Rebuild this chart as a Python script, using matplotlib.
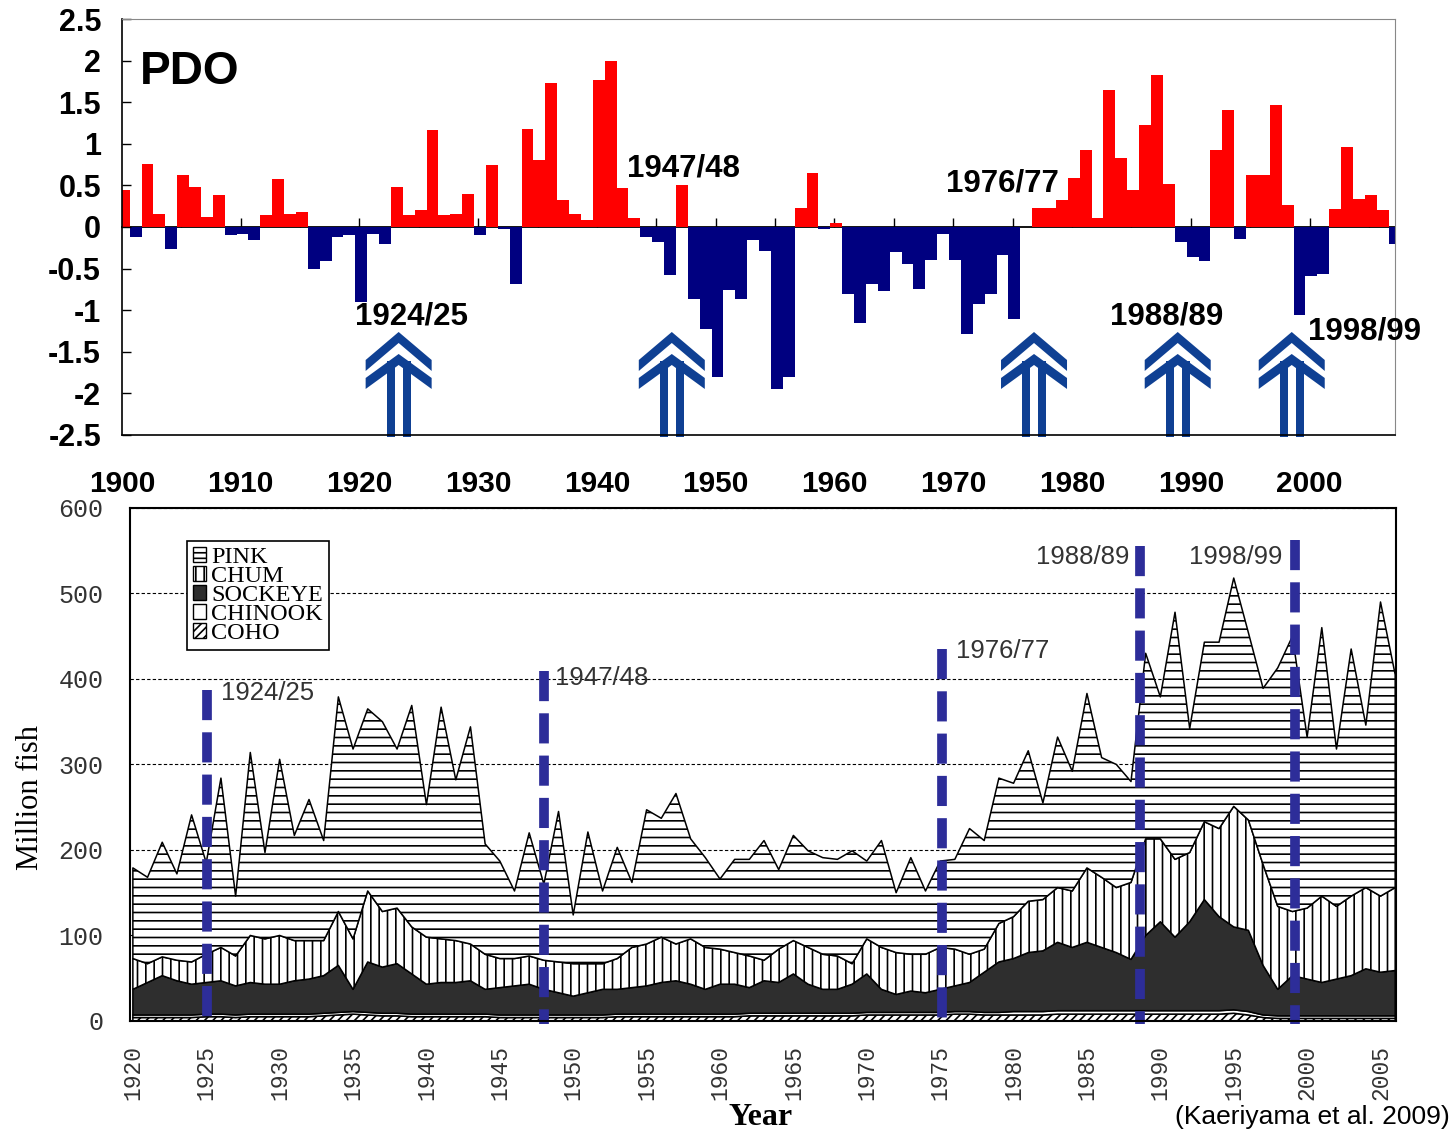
import matplotlib
matplotlib.use("Agg")
import matplotlib.pyplot as plt
import matplotlib.transforms as mtransforms
from matplotlib.patches import Patch, Polygon, Rectangle
import numpy as np

plt.rcParams["font.family"] = ["Liberation Sans", "DejaVu Sans"]
plt.rcParams["axes.unicode_minus"] = False
plt.rcParams["hatch.linewidth"] = 1.2

# PDO annual index 1900-2007
pdo_years = np.arange(1900, 2008)
pdo_values = [
    0.45, -0.12, 0.76, 0.16, -0.26, 0.63, 0.48, 0.12, 0.38, -0.10,
    -0.08, -0.16, 0.15, 0.58, 0.16, 0.18, -0.51, -0.41, -0.12, -0.10,
    -0.90, -0.09, -0.20, 0.48, 0.15, 0.20, 1.16, 0.15, 0.16, 0.40,
    -0.10, 0.74, -0.02, -0.69, 1.18, 0.80, 1.73, 0.33, 0.16, 0.08,
    1.77, 2.00, 0.47, 0.11, -0.12, -0.18, -0.58, 0.51, -0.87, -1.23,
    -1.80, -0.76, -0.87, -0.16, -0.29, -1.95, -1.80, 0.23, 0.65, -0.02,
    0.05, -0.81, -1.16, -0.69, -0.77, -0.30, -0.45, -0.74, -0.40, -0.09,
    -0.40, -1.29, -0.92, -0.80, -0.34, -1.10, 0.00, 0.23, 0.23, 0.33,
    0.59, 0.92, 0.11, 1.65, 0.83, 0.45, 1.23, 1.83, 0.52, -0.18,
    -0.36, -0.41, 0.92, 1.41, -0.14, 0.63, 0.63, 1.47, 0.26, -1.06,
    -0.59, -0.56, 0.22, 0.96, 0.34, 0.38, 0.20, -0.20,
]

# regime shifts
shift_labels = ["1924/25", "1947/48", "1976/77", "1988/89", "1998/99"]
pdo_label_x = [1924.4, 1947.3, 1974.1, 1988.0, 2004.6]
pdo_label_y = [-1.08, 0.70, 0.52, -1.08, -1.26]
arrow_x = [1923.3, 1946.3, 1976.8, 1988.9, 1998.5]

# salmon catch (million fish), 1920-2006
catch_years = np.arange(1920, 2007)
pink = [
    106, 101, 134, 101, 172, 107, 198, 70, 214, 101,
    206, 123, 165, 117, 251, 222, 213, 222, 186, 259,
    155, 271, 188, 254, 129, 114, 79, 144, 89, 176,
    57, 154, 85, 130, 76, 157, 139, 176, 117, 105,
    82, 109, 113, 140, 93, 123, 113, 113, 113, 132,
    91, 125, 70, 113, 74, 101, 105, 147, 127, 170,
    156, 176, 113, 176, 140, 204, 140, 144, 118, 217,
    166, 289, 145, 210, 218, 267, 219, 206, 279, 322,
    200, 314, 184, 289, 190, 344, 249,
]
chum = [
    36, 22, 22, 24, 26, 33, 39, 35, 55, 53,
    57, 47, 45, 41, 63, 59, 83, 65, 65, 55,
    55, 51, 49, 43, 41, 34, 32, 33, 34, 36,
    38, 34, 30, 36, 47, 49, 53, 43, 53, 49,
    41, 37, 37, 24, 39, 39, 43, 41, 39, 24,
    41, 49, 49, 43, 45, 49, 43, 33, 27, 45,
    49, 60, 60, 64, 66, 87, 82, 76, 90, 113,
    97, 91, 81, 91, 103, 141, 129, 118, 97, 75,
    83, 101, 85, 93, 95, 89, 97,
]
sockeye = [
    30, 38, 46, 40, 36, 37, 39, 34, 37, 35,
    35, 39, 41, 44, 55, 26, 59, 54, 58, 47,
    35, 37, 37, 39, 29, 32, 34, 36, 30, 26,
    22, 26, 30, 29, 31, 33, 37, 39, 35, 29,
    35, 35, 30, 38, 36, 46, 34, 28, 28, 34,
    45, 27, 21, 25, 23, 27, 30, 34, 47, 59,
    62, 69, 71, 80, 74, 80, 74, 68, 60, 88,
    104, 86, 104, 130, 110, 97, 95, 58, 31, 47,
    43, 39, 43, 47, 55, 51, 53,
]
chinook = [
    3, 3, 3, 3, 3, 3, 3, 3, 3, 3,
    3, 3, 3, 3, 3, 3, 3, 3, 3, 3,
    3, 3, 3, 3, 3, 3, 3, 3, 3, 3,
    3, 3, 3, 3, 3, 3, 3, 3, 3, 3,
    3, 3, 3, 3, 3, 3, 3, 3, 3, 3,
    3, 3, 3, 3, 3, 3, 3, 3, 3, 3,
    4, 4, 4, 4, 4, 4, 4, 4, 4, 4,
    4, 4, 4, 4, 4, 4, 4, 3, 3, 3,
    3, 3, 3, 3, 3, 3, 3,
]
coho = [
    4, 4, 4, 4, 4, 5, 5, 4, 5, 5,
    5, 5, 5, 6, 7, 8, 7, 6, 6, 5,
    5, 5, 5, 5, 5, 4, 4, 4, 4, 4,
    4, 4, 4, 5, 5, 5, 5, 5, 5, 5,
    5, 5, 6, 6, 6, 6, 6, 6, 6, 6,
    7, 7, 7, 7, 7, 7, 8, 8, 7, 7,
    7, 7, 7, 8, 8, 8, 8, 8, 8, 8,
    8, 8, 8, 8, 8, 9, 7, 4, 3, 3,
    3, 3, 3, 3, 3, 3, 3,
]
species = ["PINK", "CHUM", "SOCKEYE", "CHINOOK", "COHO"]

shift_line_x = [1925.04, 1948.0, 1975.1, 1988.6, 1999.2]
shift_line_top = [387, 409, 435, 555, 563]
catch_label_x = [1926.0, 1948.75, 1976.1, 1987.9, 1998.3]
catch_label_y = [383, 401, 433, 543, 543]
catch_label_ha = ["left", "left", "left", "right", "right"]

fig = plt.figure(figsize=(14.55, 11.31), dpi=100)

# ---- top panel: PDO bars ----
ax1 = fig.add_axes([0.0838, 0.6154, 0.8750, 0.3678])
bar_colors = ["#ff0000" if v >= 0 else "#000080" for v in pdo_values]
ax1.bar(pdo_years - 0.35, pdo_values, width=1.0, align="edge",
        color=bar_colors, linewidth=0)
ax1.set_xlim(1900, 2007.2)
ax1.set_ylim(-2.5, 2.5)

yt = np.arange(-2.5, 2.51, 0.5)
ax1.set_yticks(yt)
ax1.set_yticklabels([f"{v:g}" for v in yt], fontsize=22, fontweight="bold")
ax1.tick_params(axis="y", direction="in", length=6.5, width=1, pad=15)
xt = np.arange(1900, 2001, 10)
ax1.set_xticks(xt)
ax1.set_xticklabels([str(v) for v in xt], fontsize=21.5, fontweight="bold")
ax1.tick_params(axis="x", length=0, pad=25)
for side in ["top", "right"]:
    ax1.spines[side].set_color("#888888")
for side in ["left", "bottom"]:
    ax1.spines[side].set_color("black")
    ax1.spines[side].set_linewidth(1.2)

# zero line with 5-year ticks
zero_axis = ax1.secondary_xaxis(0.5)
zero_axis.set_xticks(np.arange(1905, 2006, 5))
zero_axis.tick_params(direction="out", length=6.5, width=1,
                      labeltop=False, labelbottom=False)
for sp in zero_axis.spines.values():
    sp.set_color("black")
    sp.set_linewidth(1.3)

ax1.text(1901.5, 1.86, "PDO", fontsize=33, fontweight="bold",
         ha="left", va="center")
for lbl, x, y in zip(shift_labels, pdo_label_x, pdo_label_y):
    ax1.text(x, y, lbl, fontsize=22.5, fontweight="bold", ha="center", va="center")


def double_arrow(ax, x, color="#0f4093"):
    # shape in pixels, anchored at the bottom edge of the panel
    trans = mtransforms.Affine2D().scale(fig.dpi / 100) + \
        mtransforms.ScaledTranslation(x, -2.5, ax.transData)
    outer = [(-33, 64), (0, 92), (33, 64), (33, 75), (0, 103), (-33, 75)]
    inner = [(-33, 46), (0, 70), (33, 46), (33, 57), (0, 81), (-33, 57)]
    for pts in (outer, inner):
        ax.add_patch(Polygon(pts, closed=True, transform=trans,
                             facecolor=color, edgecolor="none", clip_on=False))
    for x0 in (-12, 4):
        ax.add_patch(Rectangle((x0, -2), 8, 76, transform=trans,
                               facecolor=color, edgecolor="none", clip_on=False))


for x in arrow_x:
    double_arrow(ax1, x)

# ---- bottom panel: salmon catch ----
ax2 = fig.add_axes([0.0893, 0.0973, 0.8701, 0.4536])
ax2.set_axisbelow(True)
ax2.yaxis.grid(True, linestyle=(0, (3, 2)), color="black", linewidth=0.8)

polys = ax2.stackplot(catch_years, coho, chinook, sockeye, chum, pink,
                      colors=["white", "white", "#2e2e2e", "white", "white"],
                      edgecolor="black", linewidth=1.1)
for poly, hatch in zip(polys, ["////", "", "", "||", "--"]):
    poly.set_hatch(hatch)

ax2.set_xlim(1919.8, 2006.05)
ax2.set_ylim(0, 600)

for x, top in zip(shift_line_x, shift_line_top):
    ax2.plot([x, x], [top, -3], color="#2d2d99", linewidth=7,
             linestyle=(0, (3.1, 1.25)), dash_capstyle="butt", clip_on=False)
for lbl, x, y, ha in zip(shift_labels, catch_label_x, catch_label_y, catch_label_ha):
    ax2.text(x, y, lbl, fontsize=18.5, color="#333333", ha=ha, va="center")

ax2.set_yticks(np.arange(0, 601, 100))
ax2.set_yticklabels([str(v) for v in range(0, 601, 100)],
                    family="Liberation Mono", fontsize=18, color="#333333")
ax2.tick_params(axis="y", length=0, pad=19)
cx = np.arange(1920, 2006, 5)
ax2.set_xticks(cx)
ax2.set_xticklabels([str(v) for v in cx], rotation=90,
                    family="Liberation Mono", fontsize=16.5, color="#333333")
ax2.tick_params(axis="x", length=0, pad=17)
for sp in ax2.spines.values():
    sp.set_color("black")
    sp.set_linewidth(1.5)

ax2.set_ylabel("Million fish", family="Liberation Serif", fontsize=22)
ax2.yaxis.set_label_coords(-0.067, 0.435)
ax2.set_xlabel("Year", family="Liberation Serif", fontsize=23, fontweight="bold")
ax2.xaxis.set_label_coords(0.498, -0.16)

handles = [
    Patch(facecolor="white", edgecolor="black", hatch="---", label="PINK"),
    Patch(facecolor="white", edgecolor="black", hatch="||", label="CHUM"),
    Patch(facecolor="#2e2e2e", edgecolor="black", label="SOCKEYE"),
    Patch(facecolor="white", edgecolor="black", label="CHINOOK"),
    Patch(facecolor="white", edgecolor="black", hatch="////", label="COHO"),
]
leg = ax2.legend(handles=handles, labels=species, loc="upper left",
                 bbox_to_anchor=(0.045, 0.936), borderaxespad=0,
                 frameon=True, fancybox=False, edgecolor="black", framealpha=1,
                 prop={"family": "Liberation Serif", "size": 17.5},
                 handlelength=0.55, handleheight=0.55, handletextpad=0.2,
                 labelspacing=-0.08, borderpad=0.25)
leg.get_frame().set_linewidth(1.2)

fig.text(0.9966, 0.0124, "(Kaeriyama et al. 2009)", ha="right", va="center",
         fontsize=19)

fig.savefig("out.png", dpi=100)
